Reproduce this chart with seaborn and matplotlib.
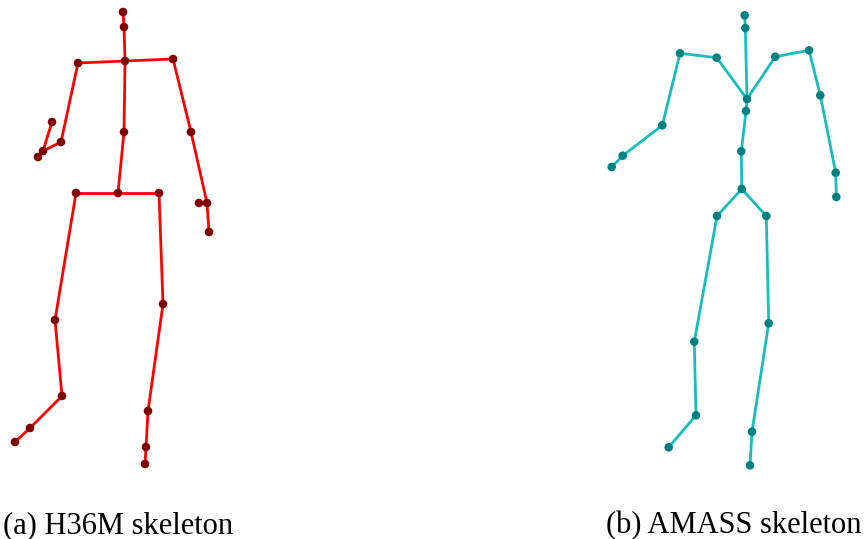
import numpy as np
import pandas as pd
import matplotlib
matplotlib.use("Agg")
import matplotlib.pyplot as plt
import seaborn as sns

# H36M joints (x, y in image space, y grows downward) and parent index per joint
h36m_names = ["head_top", "head", "thorax", "spine", "hip",
              "l_shoulder", "l_elbow", "l_wrist", "l_hand", "l_thumb",
              "r_shoulder", "r_elbow", "r_wrist", "r_hand", "r_thumb",
              "l_hip", "l_knee", "l_ankle", "l_foot", "l_toe",
              "r_hip", "r_knee", "r_ankle", "r_foot", "r_toe"]
h36m_x = [123, 124, 125, 124, 118,
          78, 61, 43, 38, 52,
          173, 191, 207, 209, 199,
          76, 55, 62, 30, 15,
          159, 163, 148, 146, 145]
h36m_y = [12, 27, 61, 132, 193,
          63, 142, 151, 157, 122,
          59, 132, 203, 232, 203,
          193, 320, 396, 428, 442,
          193, 304, 411, 447, 464]
h36m_parent = [1, 2, -1, 2, 3,
               2, 5, 6, 7, 7,
               2, 10, 11, 12, 12,
               4, 15, 16, 17, 18,
               4, 20, 21, 22, 23]

# AMASS joints and parents
amass_names = ["head_top", "head", "neck", "spine3", "spine2", "pelvis",
               "l_collar", "l_shoulder", "l_elbow", "l_wrist", "l_hand",
               "r_collar", "r_shoulder", "r_elbow", "r_wrist", "r_hand",
               "l_hip", "l_knee", "l_ankle", "l_foot",
               "r_hip", "r_knee", "r_ankle", "r_foot"]
amass_x = [744.7, 745.3, 747.0, 746.0, 741.3, 741.7,
           716.7, 680.0, 662.3, 622.7, 611.7,
           775.3, 809.0, 820.3, 835.7, 836.3,
           717.0, 694.3, 696.0, 668.7,
           766.3, 768.7, 752.0, 750.0]
amass_y = [15.3, 28.0, 99.0, 111.0, 151.3, 189.0,
           57.7, 53.3, 125.3, 155.7, 167.0,
           56.7, 50.3, 95.3, 172.7, 197.0,
           216.0, 341.7, 415.3, 447.3,
           216.0, 323.3, 431.7, 465.3]
amass_parent = [1, 2, -1, 2, 3, 4,
                2, 6, 7, 8, 9,
                2, 11, 12, 13, 14,
                5, 16, 17, 18,
                5, 20, 21, 22]

captions = ["(a) H36M skeleton", "(b) AMASS skeleton"]


def bones_frame(xs, ys, parents):
    rows = []
    for j, p in enumerate(parents):
        if p < 0:
            continue
        rows.append({"bone": j, "x": xs[p], "y": ys[p], "order": 0})
        rows.append({"bone": j, "x": xs[j], "y": ys[j], "order": 1})
    return pd.DataFrame(rows)


W, H = 865, 539
fig = plt.figure(figsize=(W / 100, H / 100), dpi=100)
ax = fig.add_axes([0, 0, 1, 1])

skeletons = [
    (h36m_x, h36m_y, h36m_parent, "#ff0000", "#800000"),
    (amass_x, amass_y, amass_parent, "#17bebe", "#008080"),
]
for xs, ys, parents, line_c, dot_c in skeletons:
    bones = bones_frame(xs, ys, parents)
    sns.lineplot(data=bones, x="x", y="y", units="bone", estimator=None,
                 sort=False, color=line_c, linewidth=2.0, ax=ax, legend=False)
    joints = pd.DataFrame({"x": xs, "y": ys})
    sns.scatterplot(data=joints, x="x", y="y", color=dot_c, s=38,
                    edgecolor="none", ax=ax, zorder=3, legend=False)

ax.set_xlim(0, W)
ax.set_ylim(H, 0)
ax.set_axis_off()

fig.text(3 / W, 1 - 533 / H, captions[0], family="Liberation Serif",
         fontsize=22, ha="left", va="baseline")
fig.text(862 / W, 1 - 533 / H, captions[1], family="Liberation Serif",
         fontsize=22, ha="right", va="baseline")

fig.savefig("out.png", dpi=100, facecolor="white")
